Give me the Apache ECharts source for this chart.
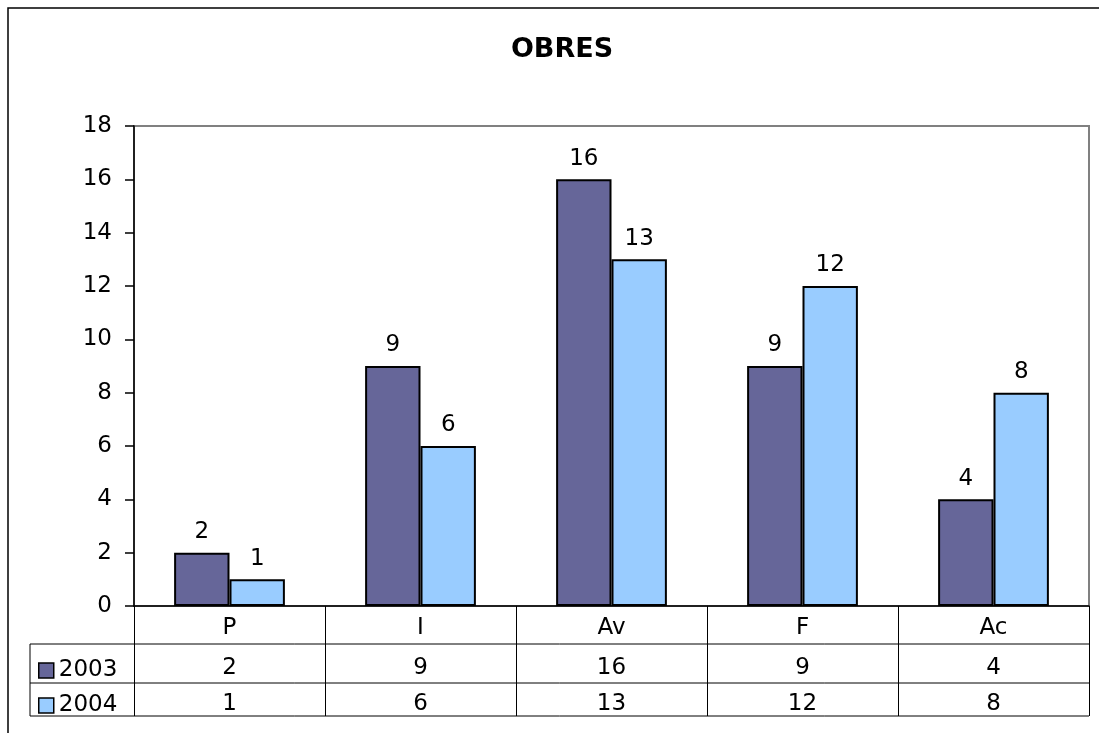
<!DOCTYPE html>
<html>
<head>
<meta charset="utf-8">
<script src="https://cdn.jsdelivr.net/npm/echarts@6/dist/echarts.min.js"></script>
<style>html,body{margin:0;padding:0;background:#fff;}#c{width:1099px;height:733px;}</style>
</head>
<body>
<div id="c"></div>
<script>
const title = 'OBRES';
const categories = ['P', 'I', 'Av', 'F', 'Ac'];
const seriesNames = ['2003', '2004'];
const values2003 = [2, 9, 16, 9, 4];
const values2004 = [1, 6, 13, 12, 8];
const yMin = 0, yMax = 18, yStep = 2;

const FONT = 'DejaVu Sans';
const FS = 23;
const chart = echarts.init(document.getElementById('c'));

// layout constants
const GL = 134, GR = 1089, GT = 126, GB = 606;
const tableLeft = 30, row1 = 644, row2 = 683, row3 = 716;

const lineStyle = {stroke: '#000', lineWidth: 1};
function hline(y, x1, x2) { return {type: 'line', shape: {x1: x1, y1: y, x2: x2, y2: y}, style: lineStyle, silent: true}; }

chart.setOption({
  animation: false,
  textStyle: {fontFamily: FONT},
  title: {
    text: title, left: 557, top: 31, textAlign: 'center',
    textStyle: {fontFamily: FONT, fontWeight: 'bold', fontSize: 27, color: '#000'}
  },
  legend: {
    orient: 'vertical', left: 38, top: 659, itemGap: 12, padding: 0,
    icon: 'rect', itemWidth: 15, itemHeight: 15,
    itemStyle: {borderColor: '#000', borderWidth: 1.5},
    textStyle: {fontFamily: FONT, fontSize: FS, color: '#000', lineHeight: 23},
    data: seriesNames
  },
  grid: {left: GL, right: 1099 - GR, top: GT, bottom: 733 - GB, show: true, borderColor: '#808080', borderWidth: 2, backgroundColor: '#fff'},
  xAxis: [
    {
      type: 'category', data: categories, position: 'bottom',
      axisLine: {show: true, lineStyle: {color: '#000', width: 1.5}},
      axisTick: {show: true, interval: 0, length: row3 - GB, lineStyle: {color: '#000', width: 1}},
      axisLabel: {interval: 0, margin: 11, fontFamily: FONT, fontSize: FS, color: '#000'}
    },
    {
      type: 'category', data: values2003.map(String), position: 'bottom', offset: 40,
      axisLine: {show: false}, axisTick: {show: false},
      axisLabel: {interval: 0, margin: 11, fontFamily: FONT, fontSize: FS, color: '#000'}
    },
    {
      type: 'category', data: values2004.map(String), position: 'bottom', offset: 76,
      axisLine: {show: false}, axisTick: {show: false},
      axisLabel: {interval: 0, margin: 11, fontFamily: FONT, fontSize: FS, color: '#000'}
    }
  ],
  yAxis: {
    type: 'value', min: yMin, max: yMax, interval: yStep,
    axisLine: {show: true, lineStyle: {color: '#000', width: 1.5}},
    axisTick: {show: true, length: 9, lineStyle: {color: '#000', width: 1.5}},
    axisLabel: {margin: 22, fontFamily: FONT, fontSize: FS, color: '#000'},
    splitLine: {show: false}
  },
  series: [
    {
      name: seriesNames[0], type: 'bar', data: values2003, xAxisIndex: 0,
      barGap: '0%', barCategoryGap: '42%',
      itemStyle: {color: '#666699', borderColor: '#000', borderWidth: 2},
      label: {show: true, position: 'top', distance: 9, fontFamily: FONT, fontSize: FS, color: '#000'}
    },
    {
      name: seriesNames[1], type: 'bar', data: values2004, xAxisIndex: 0,
      barGap: '0%', barCategoryGap: '42%',
      itemStyle: {color: '#99CCFF', borderColor: '#000', borderWidth: 2},
      label: {show: true, position: 'top', distance: 9, fontFamily: FONT, fontSize: FS, color: '#000'}
    }
  ],
  graphic: [
    {type: 'rect', shape: {x: 8, y: 8, width: 1300, height: 1000}, style: {fill: 'none', stroke: '#000', lineWidth: 1.5}, silent: true, z: -10},
    hline(row1, tableLeft, GR),
    hline(row2, tableLeft, GR),
    hline(row3, tableLeft, GR),
    {type: 'line', shape: {x1: tableLeft, y1: row1, x2: tableLeft, y2: row3}, style: lineStyle, silent: true}
  ]
});
</script>
</body>
</html>
